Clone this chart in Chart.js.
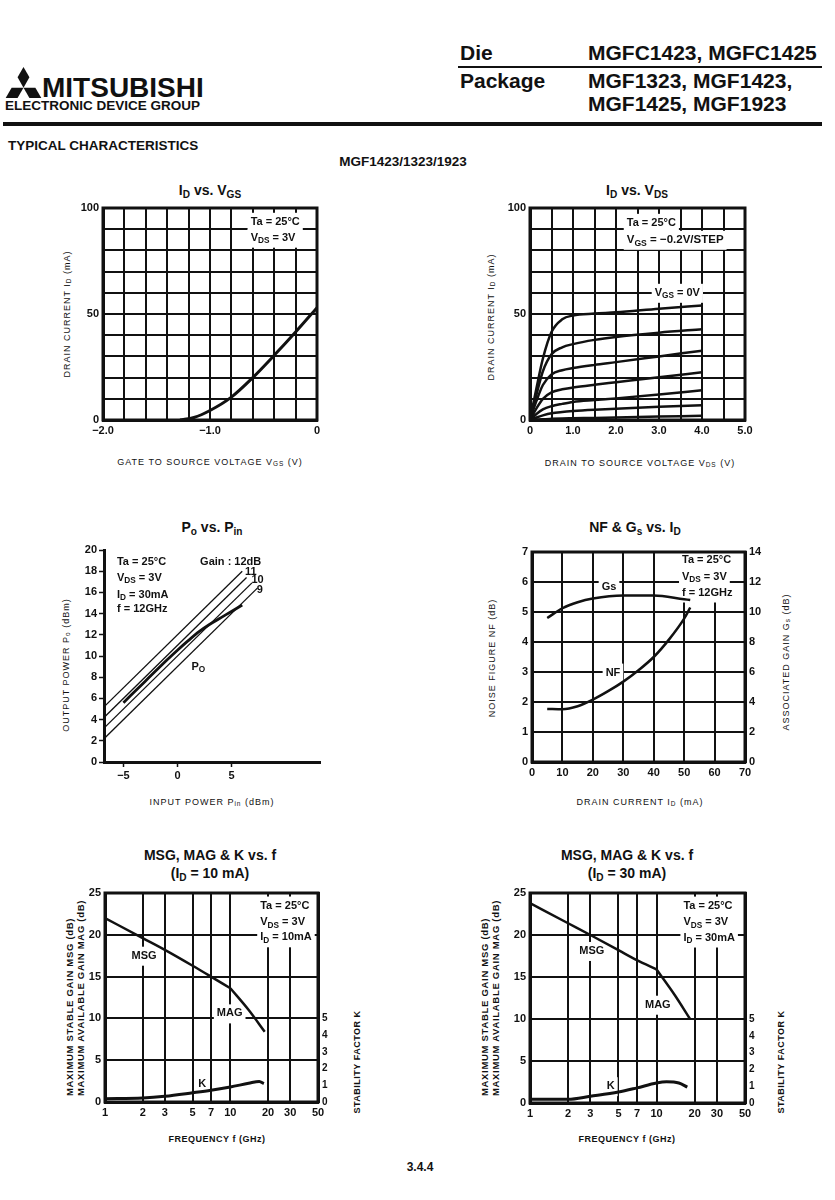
<!DOCTYPE html>
<html lang="en">
<head>
<meta charset="UTF-8">
<title>MGF1423/1323/1923 Typical Characteristics</title>
<script src="https://cdn.jsdelivr.net/npm/chart.js"></script>
<style>
  body { margin: 0; background: #fff; color: #111; font-family: "Liberation Sans", Arial, sans-serif; }
  .page { position: relative; width: 835px; height: 1200px; overflow: hidden; }
  .t { position: absolute; white-space: nowrap; line-height: 1; }
  .big { font-size: 21px; font-weight: bold; }
  .rule { position: absolute; background: #111; }
  .title { position: absolute; white-space: nowrap; font-size: 14px; font-weight: bold; line-height: 18px; text-align: center; transform: translateX(-50%); }
  sub { font-size: 72%; vertical-align: -0.3em; line-height: 0; }
  .ax { position: absolute; white-space: nowrap; font-size: 9px; letter-spacing: 1px; line-height: 13px; transform: translate(-50%, -50%); }
  .ax.v { transform: translate(-50%, -50%) rotate(-90deg); }
  .ax.b { font-weight: bold; letter-spacing: 0.5px; }
  .ax.two { font-size: 9.5px; line-height: 11px; letter-spacing: 0.7px; }
  .plot { position: absolute; }
</style>
</head>
<body>
<div class="page">
  <!-- header -->
  <svg style="position:absolute; left:5px; top:67px" width="37" height="31" viewBox="3.5 0 27 22.5" fill="#111">
    <polygon points="17,0 21.33,7.5 17,15 12.67,7.5"/>
    <polygon points="17,15 12.67,22.5 4,22.5 8.33,15"/>
    <polygon points="17,15 25.67,15 30,22.5 21.33,22.5"/>
  </svg>
  <div class="t" style="left:42px; top:73.5px; font-size:28px; font-weight:bold">MITSUBISHI</div>
  <div class="t" style="left:5px; top:98.5px; font-size:13.5px; font-weight:bold">ELECTRONIC DEVICE GROUP</div>
  <div class="t big" style="left:460px; top:42px">Die</div>
  <div class="t big" style="left:588px; top:42px">MGFC1423, MGFC1425</div>
  <div class="rule" style="left:458px; top:66px; width:364px; height:2px"></div>
  <div class="t big" style="left:460px; top:70px">Package</div>
  <div class="t big" style="left:588px; top:70px">MGF1323, MGF1423,</div>
  <div class="t big" style="left:588px; top:93px">MGF1425, MGF1923</div>
  <div class="rule" style="left:3px; top:122px; width:819px; height:4px"></div>
  <div class="t" style="left:8px; top:139px; font-size:13.5px; font-weight:bold">TYPICAL CHARACTERISTICS</div>
  <div class="t" style="left:403px; top:155px; font-size:13.5px; font-weight:bold; transform:translateX(-50%)">MGF1423/1323/1923</div>

  <!-- chart titles -->
  <div class="title" style="left:210px; top:181px">I<sub>D</sub> vs. V<sub>GS</sub></div>
  <div class="title" style="left:637px; top:181px">I<sub>D</sub> vs. V<sub>DS</sub></div>
  <div class="title" style="left:212px; top:518px">P<sub>o</sub> vs. P<sub>in</sub></div>
  <div class="title" style="left:635px; top:518px">NF &amp; G<sub>s</sub> vs. I<sub>D</sub></div>
  <div class="title" style="left:210px; top:846px">MSG, MAG &amp; K vs. f<br>(I<sub>D</sub> = 10 mA)</div>
  <div class="title" style="left:627px; top:846px">MSG, MAG &amp; K vs. f<br>(I<sub>D</sub> = 30 mA)</div>

  <!-- axis titles -->
  <div class="ax" style="left:210px; top:462px">GATE TO SOURCE VOLTAGE V<sub>GS</sub> (V)</div>
  <div class="ax v" style="left:67px; top:314px">DRAIN CURRENT I<sub>D</sub> (mA)</div>
  <div class="ax" style="left:640px; top:463px">DRAIN TO SOURCE VOLTAGE V<sub>DS</sub> (V)</div>
  <div class="ax v" style="left:491px; top:317px">DRAIN CURRENT I<sub>D</sub> (mA)</div>
  <div class="ax" style="left:212px; top:802px">INPUT POWER P<sub>in</sub> (dBm)</div>
  <div class="ax v" style="left:66px; top:665px">OUTPUT POWER P<sub>o</sub> (dBm)</div>
  <div class="ax" style="left:640px; top:802px">DRAIN CURRENT I<sub>D</sub> (mA)</div>
  <div class="ax v" style="left:492px; top:658px">NOISE FIGURE NF (dB)</div>
  <div class="ax v" style="left:786px; top:662px">ASSOCIATED GAIN G<sub>s</sub> (dB)</div>
  <div class="ax b" style="left:217px; top:1139px">FREQUENCY f (GHz)</div>
  <div class="ax v b two" style="left:75px; top:998px">MAXIMUM STABLE GAIN MSG (dB)<br>MAXIMUM AVAILABLE GAIN MAG (dB)</div>
  <div class="ax v b" style="left:357px; top:1062px">STABILITY FACTOR K</div>
  <div class="ax b" style="left:627px; top:1139px">FREQUENCY f (GHz)</div>
  <div class="ax v b two" style="left:490px; top:998px">MAXIMUM STABLE GAIN MSG (dB)<br>MAXIMUM AVAILABLE GAIN MAG (dB)</div>
  <div class="ax v b" style="left:781px; top:1062px">STABILITY FACTOR K</div>

  <div class="plot" id="p1"><canvas></canvas></div>
  <div class="plot" id="p2"><canvas></canvas></div>
  <div class="plot" id="p3"><canvas></canvas></div>
  <div class="plot" id="p4"><canvas></canvas></div>
  <div class="plot" id="p5"><canvas></canvas></div>
  <div class="plot" id="p6"><canvas></canvas></div>

  <div class="t" style="left:420px; top:1161px; font-size:12px; font-weight:bold; transform:translateX(-50%)">3.4.4</div>
</div>

<script>
// ---- data: ID vs VGS ----
const vgsGrid = [-2, -1.8, -1.6, -1.4, -1.2, -1, -0.8, -0.6, -0.4, -0.2, 0];
const vgsLabels = ['−2.0', '', '', '', '', '−1.0', '', '', '', '', '0'];
const idGrid = [0, 10, 20, 30, 40, 50, 60, 70, 80, 90, 100];
const idLabels = ['0', '', '', '', '', '50', '', '', '', '', '100'];
const vgsX = [-1.28, -1.15, -1.0, -0.8, -0.6, -0.4, -0.2, 0];
const vgsId = [0, 1.2, 4.5, 10.8, 20, 30.5, 41.5, 53];

// ---- data: ID vs VDS ----
const vdsGrid = [0, 0.5, 1, 1.5, 2, 2.5, 3, 3.5, 4, 4.5, 5];
const vdsLabels = ['0', '', '1.0', '', '2.0', '', '3.0', '', '4.0', '', '5.0'];
const vdsX = [0, 0.15, 0.3, 0.5, 0.75, 1.0, 1.5, 2.0, 3.0, 4.0];
const idVgs0 = [0, 15, 29, 41.5, 47.5, 49.3, 50.2, 50.8, 52.5, 54];
const idVgs02 = [0, 12, 23, 31, 34.3, 35.8, 37.8, 39.2, 41.2, 42.8];
const idVgs04 = [0, 9, 16.5, 21.5, 23.5, 24.5, 26, 27.3, 30, 32.7];
const idVgs06 = [0, 5.5, 10, 13, 14.5, 15.3, 16.6, 17.8, 20.2, 22.5];
const idVgs08 = [0, 2.8, 5, 6.5, 7.6, 8.5, 9.4, 10.2, 12, 14];
const idVgs10 = [0, 1.2, 2.2, 3.2, 3.8, 4.2, 4.8, 5.3, 6.2, 7.0];
const idVgs12 = [0, 0.2, 0.4, 0.55, 0.7, 0.8, 1.0, 1.2, 1.6, 2.0];

// ---- data: Po vs Pin ----
const pinTicks = [-5, 0, 5];
const pinLabels = ['−5', '0', '5'];
const poGrid = [0, 2, 4, 6, 8, 10, 12, 14, 16, 18, 20];
const poLabels = ['0', '2', '4', '6', '8', '10', '12', '14', '16', '18', '20'];
const gain12X = [-6.8, 6.0], gain12Y = [5.2, 18.0];
const gain11X = [-6.8, 6.4], gain11Y = [4.2, 17.4];
const gain10X = [-6.8, 6.9], gain10Y = [3.2, 16.9];
const gain9X = [-6.8, 7.4], gain9Y = [2.2, 16.4];
const poPin = [-5, -3, -1, 0, 1, 2, 3, 4, 5, 6];
const poOut = [5.6, 7.6, 9.6, 10.55, 11.45, 12.3, 13.0, 13.6, 14.2, 14.8];

// ---- data: NF & Gs vs ID ----
const idGrid4 = [0, 10, 20, 30, 40, 50, 60, 70];
const idLabels4 = ['0', '10', '20', '30', '40', '50', '60', '70'];
const nfGrid = [0, 1, 2, 3, 4, 5, 6, 7];
const nfLabels = ['0', '1', '2', '3', '4', '5', '6', '7'];
const gsGrid = [0, 2, 4, 6, 8, 10, 12, 14];
const gsLabels = ['0', '2', '4', '6', '8', '10', '12', '14'];
const nfX = [5, 10, 15, 20, 25, 30, 35, 40, 45, 50, 52];
const nfY = [1.77, 1.76, 1.86, 2.08, 2.36, 2.68, 3.06, 3.5, 4.08, 4.78, 5.15];
const gsX = [5, 10, 15, 20, 30, 40, 50, 52];
const gsY = [9.6, 10.25, 10.65, 10.9, 11.1, 11.1, 10.85, 10.8];

// ---- data: MSG, MAG & K vs f ----
const freqGrid = [1, 2, 3, 5, 7, 10, 20, 30, 50];
const freqLabels = ['1', '2', '3', '5', '7', '10', '20', '30', '50'];
const gainGrid = [0, 5, 10, 15, 20, 25];
const gainLabels = ['0', '5', '10', '15', '20', '25'];
const kGrid = [0, 1, 2, 3, 4, 5];
const kLabels = ['0', '1', '2', '3', '4', '5'];
const msg10F = [1, 2, 3, 5, 7, 10], msg10 = [22.0, 19.6, 18.2, 16.3, 15.0, 13.6];
const mag10F = [10, 14, 18.8], mag10 = [13.6, 11.0, 8.4];
const k10F = [1, 2, 3, 5, 7, 10, 14, 17, 18.5], k10 = [0.2, 0.24, 0.34, 0.55, 0.7, 0.9, 1.12, 1.23, 1.1];
const msg30F = [1, 2, 3, 5, 7, 10], msg30 = [23.8, 21.4, 20.0, 18.2, 17.0, 15.9];
const mag30F = [10, 14, 18.4], mag30 = [15.9, 12.8, 10.0];
const k30F = [1, 2, 3, 5, 7, 10, 12, 15, 17.5], k30 = [0.22, 0.22, 0.4, 0.65, 0.9, 1.19, 1.26, 1.19, 0.95];

const INK = '#111';
const FONT = '"Liberation Sans", Arial, sans-serif';
Chart.defaults.font.family = FONT;
Chart.defaults.color = INK;
Chart.defaults.animation = false;
Chart.defaults.plugins.legend.display = false;
Chart.defaults.plugins.tooltip.enabled = false;

// text with _{sub} parts, drawn on the canvas
function drawRich(ctx, str, x, y, size, measureOnly) {
  const bits = str.split(/_\{([^}]*)\}/);
  let cx = x;
  bits.forEach((b, i) => {
    if (!b) return;
    const sub = i % 2 === 1;
    ctx.font = 'bold ' + (sub ? size * 0.75 : size) + 'px ' + FONT;
    if (!measureOnly) ctx.fillText(b, cx, y + (sub ? size * 0.3 : 0));
    cx += ctx.measureText(b).width;
  });
  return cx - x;
}

function notePos(chart, n) {
  return {
    x: chart.scales[n.xs || 'x'].getPixelForValue(n.x),
    y: chart.scales[n.ys || 'y'].getPixelForValue(n.y)
  };
}

const notesPlugin = {
  id: 'notes',
  defaults: { items: [] },
  beforeDatasetsDraw(chart, args, opts) {
    const ctx = chart.ctx;
    opts.items.forEach(n => {
      if (!n.bg) return;
      const p = notePos(chart, n);
      ctx.save();
      const w = drawRich(ctx, n.t, 0, 0, n.size || 11, true);
      ctx.fillStyle = '#fff';
      ctx.fillRect(p.x - 3, p.y - 9, w + 6, 19);
      ctx.restore();
    });
  },
  afterDatasetsDraw(chart, args, opts) {
    const ctx = chart.ctx;
    opts.items.forEach(n => {
      const p = notePos(chart, n);
      ctx.save();
      ctx.fillStyle = INK;
      ctx.textBaseline = 'middle';
      drawRich(ctx, n.t, p.x, p.y, n.size || 11);
      ctx.restore();
    });
  }
};

const framePlugin = {
  id: 'frame',
  defaults: { on: false },
  afterDatasetsDraw(chart, args, opts) {
    if (!opts.on) return;
    const a = chart.chartArea, ctx = chart.ctx;
    ctx.save();
    ctx.strokeStyle = INK;
    ctx.lineWidth = 3;
    ctx.strokeRect(a.left, a.top, a.right - a.left, a.bottom - a.top);
    ctx.restore();
  }
};
Chart.register(notesPlugin, framePlugin);

// axis with explicit tick values and labels
function axis(pos, min, max, grid, labels, o) {
  o = o || {};
  return {
    type: o.type || 'linear',
    position: pos,
    min: min,
    max: max,
    afterBuildTicks: s => { s.ticks = grid.map(v => ({ value: v })); },
    afterFit: s => {
      if (s.isHorizontal()) s.height = 24; else s.width = 44;
      s.paddingLeft = s.paddingRight = s.paddingTop = s.paddingBottom = 0;
    },
    ticks: {
      autoSkip: false, maxRotation: 0, minRotation: 0,
      padding: o.pad == null ? 4 : o.pad,
      color: INK,
      font: { size: o.size || 11, weight: 'bold' },
      callback: (v, i) => labels[i]
    },
    grid: o.grid || { color: INK, lineWidth: 2, drawTicks: false },
    border: { color: INK, width: 3 }
  };
}

const noGrid = { drawOnChartArea: false, drawTicks: false };
const tickOnly = { drawOnChartArea: false, drawTicks: true, tickLength: 5, tickWidth: 1.5, tickColor: INK };

function curve(xs, ys, w, yAxisID) {
  return {
    data: xs.map((x, i) => ({ x: x, y: ys[i] })),
    borderColor: INK,
    borderWidth: w || 2.5,
    pointRadius: 0,
    showLine: true,
    fill: false,
    cubicInterpolationMode: 'monotone',
    yAxisID: yAxisID || 'y'
  };
}

// plot rectangles on the page: left, top, right, bottom
function mount(id, rect, hasRight, datasets, scales, plugins) {
  const wrap = document.getElementById(id);
  const w = rect[2] - rect[0] + 88, h = rect[3] - rect[1] + 36;
  wrap.style.left = (rect[0] - 44) + 'px';
  wrap.style.top = (rect[1] - 12) + 'px';
  const canvas = wrap.querySelector('canvas');
  canvas.width = w; canvas.height = h;
  canvas.style.width = w + 'px'; canvas.style.height = h + 'px';
  return new Chart(canvas, {
    type: 'scatter',
    data: { datasets: datasets },
    options: {
      responsive: false,
      layout: { padding: { top: 12, left: 0, bottom: 0, right: hasRight ? 0 : 44 } },
      scales: scales,
      plugins: plugins
    }
  });
}

// ID vs VGS
mount('p1', [103, 208, 317, 420], false,
  [curve(vgsX, vgsId, 3)],
  { x: axis('bottom', -2, 0, vgsGrid, vgsLabels), y: axis('left', 0, 100, idGrid, idLabels) },
  { frame: { on: true }, notes: { items: [
    { x: -0.62, y: 93.5, t: 'Ta = 25°C', bg: true },
    { x: -0.62, y: 86, t: 'V_{DS} = 3V', bg: true }
  ] } });

// ID vs VDS
mount('p2', [530, 208, 745, 420], false,
  [idVgs0, idVgs02, idVgs04, idVgs06, idVgs08, idVgs10, idVgs12].map(s => curve(vdsX, s, 2.5)),
  { x: axis('bottom', 0, 5, vdsGrid, vdsLabels), y: axis('left', 0, 100, idGrid, idLabels) },
  { frame: { on: true }, notes: { items: [
    { x: 2.25, y: 93, t: 'Ta = 25°C', bg: true },
    { x: 2.25, y: 85, t: 'V_{GS} = −0.2V/STEP', bg: true, size: 11.5 },
    { x: 2.9, y: 60, t: 'V_{GS} = 0V', bg: true }
  ] } });

// Po vs Pin
mount('p3', [104, 550, 320, 762], false,
  [curve(gain12X, gain12Y, 1.3), curve(gain11X, gain11Y, 1.3), curve(gain10X, gain10Y, 1.3),
   curve(gain9X, gain9Y, 1.3), curve(poPin, poOut, 2.8)],
  { x: axis('bottom', -6.8, 13.2, pinTicks, pinLabels, { grid: tickOnly, pad: 2 }),
    y: axis('left', 0, 20, poGrid, poLabels, { grid: tickOnly, pad: 2 }) },
  { notes: { items: [
    { x: -5.6, y: 18.9, t: 'Ta = 25°C' },
    { x: -5.6, y: 17.4, t: 'V_{DS} = 3V' },
    { x: -5.6, y: 15.8, t: 'I_{D} = 30mA' },
    { x: -5.6, y: 14.4, t: 'f = 12GHz' },
    { x: 2.1, y: 18.9, t: 'Gain : 12dB' },
    { x: 6.25, y: 17.9, t: '11' },
    { x: 6.85, y: 17.15, t: '10' },
    { x: 7.35, y: 16.2, t: '9' },
    { x: 1.3, y: 9.0, t: 'P_{O}' }
  ] } });

// NF & Gs vs ID
mount('p4', [532, 552, 745, 762], true,
  [curve(gsX, gsY, 2.5, 'y2'), curve(nfX, nfY, 2.5)],
  { x: axis('bottom', 0, 70, idGrid4, idLabels4),
    y: axis('left', 0, 7, nfGrid, nfLabels),
    y2: axis('right', 0, 14, gsGrid, gsLabels, { grid: noGrid }) },
  { frame: { on: true }, notes: { items: [
    { x: 49.3, y: 6.72, t: 'Ta = 25°C', bg: true },
    { x: 49.3, y: 6.18, t: 'V_{DS} = 3V', bg: true },
    { x: 49.3, y: 5.65, t: 'f = 12GHz', bg: true },
    { x: 22.9, y: 5.84, t: 'Gs', bg: true },
    { x: 24.2, y: 2.98, t: 'NF', bg: true }
  ] } });

// MSG, MAG & K vs f (ID = 10 mA)
mount('p5', [105, 893, 318, 1102], true,
  [curve(msg10F, msg10, 2.5), curve(mag10F, mag10, 2.5), curve(k10F, k10, 3, 'k')],
  { x: axis('bottom', 1, 50, freqGrid, freqLabels, { type: 'logarithmic' }),
    y: axis('left', 0, 25, gainGrid, gainLabels),
    k: axis('right', 0, 12.5, kGrid, kLabels, { grid: noGrid, size: 10 }) },
  { frame: { on: true }, notes: { items: [
    { x: 17.3, y: 23.5, t: 'Ta = 25°C', bg: true },
    { x: 17.3, y: 21.5, t: 'V_{DS} = 3V', bg: true },
    { x: 17.3, y: 19.7, t: 'I_{D} = 10mA', bg: true },
    { x: 1.63, y: 17.5, t: 'MSG', bg: true },
    { x: 7.8, y: 10.6, t: 'MAG', bg: true },
    { x: 5.55, y: 2.2, t: 'K', bg: true }
  ] } });

// MSG, MAG & K vs f (ID = 30 mA)
mount('p6', [530, 893, 745, 1103], true,
  [curve(msg30F, msg30, 2.5), curve(mag30F, mag30, 2.5), curve(k30F, k30, 3, 'k')],
  { x: axis('bottom', 1, 50, freqGrid, freqLabels, { type: 'logarithmic' }),
    y: axis('left', 0, 25, gainGrid, gainLabels),
    k: axis('right', 0, 12.5, kGrid, kLabels, { grid: noGrid, size: 10 }) },
  { frame: { on: true }, notes: { items: [
    { x: 16.3, y: 23.5, t: 'Ta = 25°C', bg: true },
    { x: 16.3, y: 21.5, t: 'V_{DS} = 3V', bg: true },
    { x: 16.3, y: 19.7, t: 'I_{D} = 30mA', bg: true },
    { x: 2.45, y: 18.1, t: 'MSG', bg: true },
    { x: 8.1, y: 11.7, t: 'MAG', bg: true },
    { x: 4.04, y: 2.0, t: 'K', bg: true }
  ] } });
</script>
</body>
</html>
